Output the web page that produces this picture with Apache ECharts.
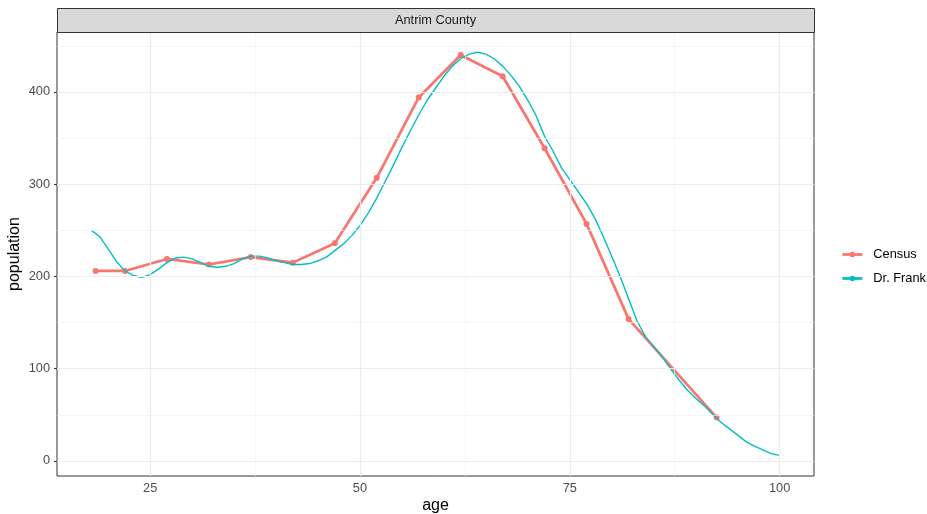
<!DOCTYPE html>
<html>
<head>
<meta charset="utf-8">
<script src="https://cdn.jsdelivr.net/npm/echarts@6/dist/echarts.min.js"></script>
<style>
  html, body { margin: 0; padding: 0; background: #ffffff; }
  #chart { width: 927px; height: 514px; }
</style>
</head>
<body>
<div id="chart"></div>
<script>
// Antrim County: census counts by age group vs. Dr. Frank's estimate
const panelTitle = 'Antrim County';

const censusAges = [18.5, 22, 27, 32, 37, 42, 47, 52, 57, 62, 67, 72, 77, 82, 92.5];
const censusPop  = [206, 206, 219, 213, 221, 215, 236, 307, 394, 440, 417, 339, 257, 154, 47];

const frankAges = [
  18, 19, 20, 21, 22, 23, 24, 25, 26, 27, 28, 29, 30, 31, 32, 33, 34, 35, 36, 37,
  38, 39, 40, 41, 42, 43, 44, 45, 46, 47, 48, 49, 50, 51, 52, 53, 54, 55, 56, 57,
  58, 59, 60, 61, 62, 63, 64, 65, 66, 67, 68, 69, 70, 71, 72, 73, 74, 75, 76, 77,
  78, 79, 80, 81, 82, 83, 84, 85, 86, 87, 88, 89, 90, 91, 92, 93, 94, 95, 96, 97,
  98, 99, 100
];
const frankPop = [
  250, 243, 230, 216, 206, 201, 199, 202, 208, 215, 220, 221, 219, 215, 211, 210, 211, 214, 219, 222,
  222, 220, 217, 215, 213, 213, 214, 217, 221, 228, 235, 244, 255, 269, 285, 303, 321, 340, 358, 375,
  391, 404, 417, 428, 436, 441, 443, 441, 436, 428, 418, 406, 391, 374, 352, 336, 318, 305, 292, 279,
  263, 243, 222, 200, 176, 152, 135, 124, 113, 100, 88, 77, 68, 60, 51, 42, 35, 28, 21, 16,
  12, 8, 6
];

const xTicks = [25, 50, 75, 100];
const xMinor = [37.5, 62.5, 87.5];
const yTicks = [0, 100, 200, 300, 400];
const yMinor = [50, 150, 250, 350, 450];

const seriesNames = ['Census', 'Dr. Frank'];
const seriesColors = ['#F8766D', '#00BFC4'];

const FONT = '"Liberation Sans", Arial, sans-serif';
const SMALL = 12.8;   // tick labels, strip and legend text
const TITLE = 16;     // axis titles
const GRID = { left: 57, right: 113, top: 32, bottom: 38 };

const zip = (a, b) => a.map((v, i) => [v, b[i]]);

const majorStyle = { color: '#ebebeb', width: 1.2, type: 'solid' };
const minorStyle = { color: '#f3f3f3', width: 0.7, type: 'solid' };

const gridLines = []
  .concat(xMinor.map(v => ({ xAxis: v, lineStyle: minorStyle })))
  .concat(yMinor.map(v => ({ yAxis: v, lineStyle: minorStyle })))
  .concat(xTicks.map(v => ({ xAxis: v, lineStyle: majorStyle })))
  .concat(yTicks.map(v => ({ yAxis: v, lineStyle: majorStyle })));

const chart = echarts.init(document.getElementById('chart'), null, { renderer: 'canvas' });

chart.setOption({
  animation: false,
  backgroundColor: '#ffffff',
  textStyle: { fontFamily: FONT },
  grid: {
    left: GRID.left, right: GRID.right, top: GRID.top, bottom: GRID.bottom,
    outerBoundsMode: 'none', containLabel: false,
    show: true, borderColor: '#333333', borderWidth: 1, backgroundColor: 'transparent',
    z: 5
  },
  graphic: [
    {
      type: 'rect',
      left: GRID.left, top: 8,
      shape: { width: 927 - GRID.left - GRID.right, height: 24 },
      style: { fill: '#d9d9d9', stroke: '#333333', lineWidth: 1 },
      z: 10
    },
    {
      type: 'text',
      x: GRID.left + (927 - GRID.left - GRID.right) / 2,
      y: 20,
      style: {
        text: panelTitle, font: SMALL + 'px ' + FONT, fill: '#1a1a1a',
        align: 'center', verticalAlign: 'middle'
      },
      z: 11
    }
  ],
  legend: {
    data: seriesNames,
    orient: 'vertical',
    left: 836, top: 243,
    itemWidth: 20, itemHeight: 7, itemGap: 11,
    lineStyle: { width: 2.7 },
    textStyle: { fontSize: SMALL, color: '#000000', fontFamily: FONT, padding: [0, 0, 0, 6] },
    selectedMode: false
  },
  xAxis: {
    type: 'value',
    min: 13.9, max: 104.1,
    name: 'age', nameLocation: 'middle', nameGap: 22, nameMoveOverlap: false,
    nameTextStyle: { fontSize: TITLE, color: '#000000', fontFamily: FONT },
    axisLine: { show: false },
    axisTick: { show: true, length: 3, customValues: xTicks, lineStyle: { color: '#333333', width: 1 } },
    axisLabel: { customValues: xTicks, margin: 6, fontSize: SMALL, color: '#4d4d4d', fontFamily: FONT },
    splitLine: { show: false }
  },
  yAxis: {
    type: 'value',
    min: -16.3, max: 465,
    name: 'population', nameLocation: 'middle', nameGap: 34, nameMoveOverlap: false,
    nameTextStyle: { fontSize: TITLE, color: '#000000', fontFamily: FONT },
    axisLine: { show: false },
    axisTick: { show: true, length: 3, customValues: yTicks, lineStyle: { color: '#333333', width: 1 } },
    axisLabel: { customValues: yTicks, margin: 7, fontSize: SMALL, color: '#4d4d4d', fontFamily: FONT },
    splitLine: { show: false }
  },
  series: [
    {
      name: '_grid',
      type: 'line',
      data: [],
      z: 1,
      silent: true,
      markLine: {
        silent: true,
        symbol: ['none', 'none'],
        label: { show: false },
        animation: false,
        data: gridLines
      }
    },
    {
      name: seriesNames[0],
      type: 'line',
      data: zip(censusAges, censusPop),
      color: seriesColors[0],
      lineStyle: { width: 2.7, color: seriesColors[0] },
      itemStyle: { color: seriesColors[0] },
      symbol: 'circle', symbolSize: 6, showSymbol: true,
      z: 3
    },
    {
      name: seriesNames[1],
      type: 'line',
      data: zip(frankAges, frankPop),
      color: seriesColors[1],
      lineStyle: { width: 1.4, color: seriesColors[1] },
      itemStyle: { color: seriesColors[1] },
      symbol: 'circle', symbolSize: 6, showSymbol: false,
      z: 4
    }
  ]
});
</script>
</body>
</html>
